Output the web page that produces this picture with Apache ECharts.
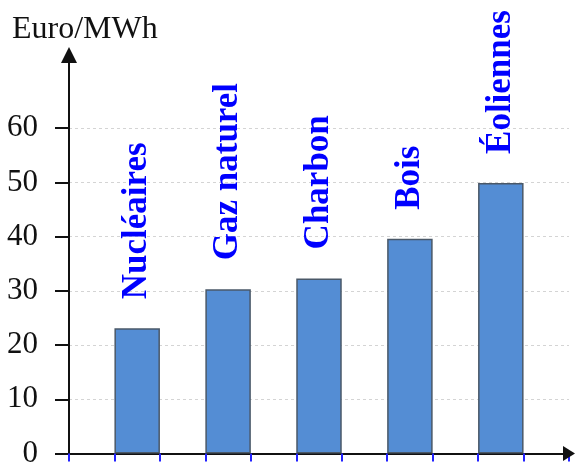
<!DOCTYPE html>
<html>
<head>
<meta charset="utf-8">
<script src="https://cdn.jsdelivr.net/npm/echarts@6/dist/echarts.min.js"></script>
<style>
html,body{margin:0;padding:0;background:#fff;}
#chart{width:576px;height:469px;}
</style>
</head>
<body>
<div id="chart"></div>
<script>
const categories = ['Nucléaires', 'Gaz naturel', 'Charbon', 'Bois', 'Éoliennes'];
const values = [23.1, 30.3, 32.3, 39.6, 49.9];
const yTicks = [0, 10, 20, 30, 40, 50, 60];
const yTitle = 'Euro/MWh';

const chart = echarts.init(document.getElementById('chart'));
const serif = 'Liberation Serif, Times New Roman, serif';

// each category sits in every second slot of the x scale (slots 1,3,5,...)
const barData = categories.map((c, i) => ({ name: c, value: [2 * i + 1.5, values[i]] }));

chart.setOption({
  animation: false,
  backgroundColor: '#fff',
  title: {
    text: yTitle, left: 7, top: 9,
    textStyle: { fontFamily: serif, fontSize: 32, fontWeight: 'normal', color: '#111' }
  },
  grid: { left: 69, right: 7, top: 55, bottom: 10, containLabel: false },
  xAxis: {
    type: 'value', min: 0, max: 11, interval: 1,
    axisLine: { show: true, symbol: ['none', 'triangle'], symbolSize: [15, 12],
      lineStyle: { color: '#111', width: 2 } },
    axisTick: { show: true, inside: false, length: 8, lineStyle: { color: '#2222ff', width: 2 } },
    axisLabel: { show: false },
    splitLine: { show: false }
  },
  yAxis: {
    type: 'value', min: 0, max: 73.5, interval: 10,
    axisLine: { show: true, symbol: ['none', 'triangle'], symbolSize: [16, 16],
      lineStyle: { color: '#111', width: 2 } },
    axisTick: { show: true, inside: false, length: 14, customValues: yTicks,
      lineStyle: { color: '#111', width: 2 } },
    axisLabel: { show: true, margin: 31, customValues: yTicks, padding: [6, 0, 0, 0],
      fontFamily: serif, fontSize: 31, color: '#111' },
    splitLine: { show: true, lineStyle: { color: '#d4d4d4', width: 1, type: [3, 3] } }
  },
  series: [{
    type: 'bar',
    data: barData,
    barWidth: 45.5,
    itemStyle: { color: '#548DD4', borderColor: '#4a5868', borderWidth: 1.5 },
    label: {
      show: true, position: 'top', rotate: 90, align: 'left', verticalAlign: 'middle',
      distance: 29, formatter: '{b}',
      fontFamily: serif, fontSize: 35, fontWeight: 'bold', color: '#0000ff'
    }
  }]
});
</script>
</body>
</html>
